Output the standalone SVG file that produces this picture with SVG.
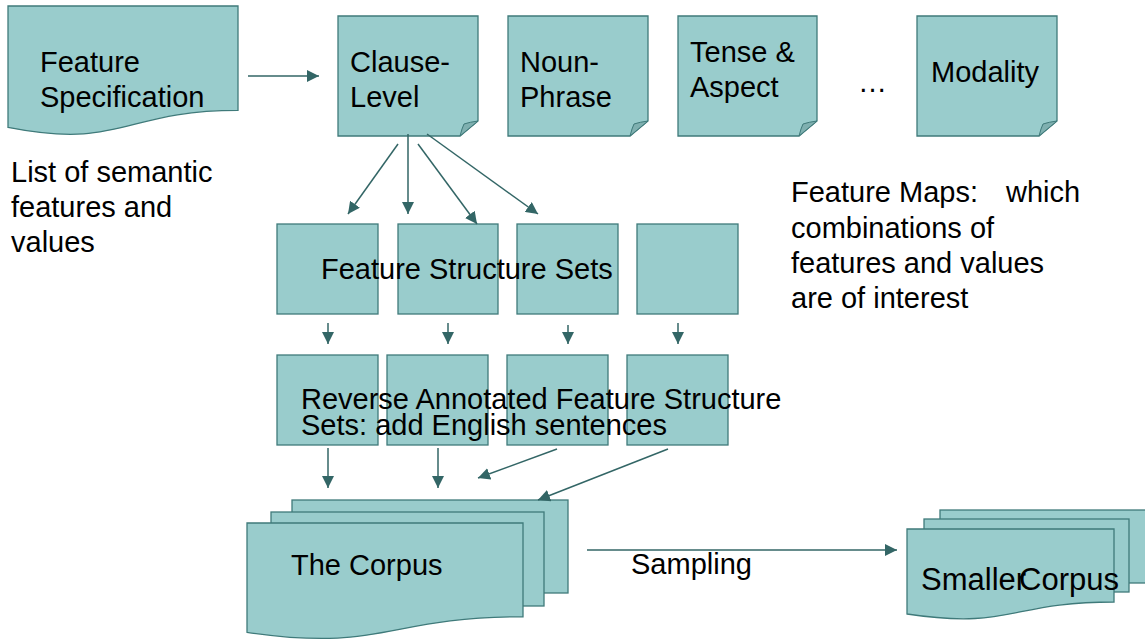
<svg xmlns="http://www.w3.org/2000/svg" width="1145" height="641" viewBox="0 0 1145 641">
<defs>
<style>
.shape{fill:#99cccc;stroke:#3f7a7a;stroke-width:1.3}
.fold{fill:#7fb0b0;stroke:#3f7a7a;stroke-width:1}
.t{font-family:"Liberation Sans",Arial,sans-serif;font-size:29px;fill:#000}
.conn line{stroke:#336666;stroke-width:1.5;marker-end:url(#ah)}
</style>
<marker id="ah" viewBox="0 0 12 12" refX="12" refY="6" markerWidth="12" markerHeight="12" markerUnits="userSpaceOnUse" orient="auto">
<path d="M0,0 L12,6 L0,12 Z" fill="#336666"/>
</marker>
</defs>
<rect width="1145" height="641" fill="#fff"/>

<g id="feature-spec">
<path class="shape" d="M8,6 H238 V110.3 C123,110.3 123,149.9 8,127.4 Z"/>
<text class="t"><tspan x="40" y="72">Feature</tspan><tspan x="40" y="107">Specification</tspan></text>
</g>

<g id="clause-level">
<path class="shape" d="M338,16 H478 V121 L460,136 H338 Z"/>
<path class="fold" d="M460,136 Q462,128 464,124 Q470,122 478,121 Z"/>
<text class="t"><tspan x="350" y="72">Clause-</tspan><tspan x="350" y="107">Level</tspan></text>
</g>

<g id="noun-phrase">
<path class="shape" d="M508,16 H648 V121 L630,136 H508 Z"/>
<path class="fold" d="M630,136 Q632,128 634,124 Q640,122 648,121 Z"/>
<text class="t"><tspan x="520" y="72">Noun-</tspan><tspan x="520" y="107">Phrase</tspan></text>
</g>

<g id="tense-aspect">
<path class="shape" d="M678,16 H817 V121 L799,136 H678 Z"/>
<path class="fold" d="M799,136 Q801,128 803,124 Q809,122 817,121 Z"/>
<text class="t"><tspan x="690" y="62">Tense &amp;</tspan><tspan x="690" y="97">Aspect</tspan></text>
</g>

<g id="ellipsis">
<text class="t" x="858" y="92">…</text>
</g>

<g id="modality">
<path class="shape" d="M917,16 H1057 V121 L1039,136 H917 Z"/>
<path class="fold" d="M1039,136 Q1041,128 1043,124 Q1049,122 1057,121 Z"/>
<text class="t" x="931" y="82">Modality</text>
</g>

<g id="list-label">
<text class="t"><tspan x="11" y="182">List of semantic</tspan><tspan x="11" y="217">features and</tspan><tspan x="11" y="252">values</tspan></text>
</g>

<g id="feature-maps-label">
<text class="t"><tspan x="791" y="202">Feature Maps:</tspan><tspan x="1006" y="202">which</tspan><tspan x="791" y="238">combinations of</tspan><tspan x="791" y="273">features and values</tspan><tspan x="791" y="308">are of interest</tspan></text>
</g>

<g id="fs-sets">
<rect class="shape" x="277" y="224" width="101" height="90"/>
<rect class="shape" x="398" y="224" width="100" height="90"/>
<rect class="shape" x="517" y="224" width="101" height="90"/>
<rect class="shape" x="637" y="224" width="101" height="90"/>
<text class="t" x="321" y="279">Feature Structure Sets</text>
</g>

<g id="reverse-sets">
<rect class="shape" x="277" y="355" width="101" height="90"/>
<rect class="shape" x="387" y="355" width="101" height="90"/>
<rect class="shape" x="507" y="355" width="101" height="90"/>
<rect class="shape" x="627" y="355" width="101" height="90"/>
<text class="t"><tspan x="301" y="409">Reverse Annotated Feature Structure</tspan><tspan x="301" y="435">Sets: add English sentences</tspan></text>
</g>

<g id="corpus">
<rect class="shape" x="292" y="500" width="276" height="93"/>
<rect class="shape" x="271" y="512" width="273" height="94"/>
<path class="shape" d="M247,523 H523 V616.8 C385,616.8 385,652.5 247,632.3 Z"/>
<text class="t" x="291" y="575">The Corpus</text>
</g>

<g id="smaller-corpus">
<rect class="shape" x="940" y="510" width="206" height="73"/>
<rect class="shape" x="924" y="519" width="205" height="73"/>
<path class="shape" d="M907,529 H1114 V602 C1010.5,602 1010.5,629.7 907,614 Z"/>
<text class="t" style="font-size:31px"><tspan x="921" y="590">Smaller</tspan><tspan x="1019" y="590">Corpus</tspan></text>
</g>

<g id="connectors" class="conn">
<line x1="248" y1="76" x2="319" y2="76"/>
<line x1="398" y1="144" x2="348" y2="214"/>
<line x1="408" y1="134" x2="408" y2="214"/>
<line x1="418" y1="144" x2="477" y2="224"/>
<line x1="427" y1="134" x2="538" y2="214"/>
<line x1="328" y1="323" x2="328" y2="344"/>
<line x1="448" y1="323" x2="448" y2="344"/>
<line x1="568" y1="325" x2="568" y2="344"/>
<line x1="678" y1="323" x2="678" y2="344"/>
<line x1="328" y1="448" x2="328" y2="488"/>
<line x1="438" y1="448" x2="438" y2="488"/>
<line x1="557" y1="449" x2="478" y2="478"/>
<line x1="668" y1="449" x2="538" y2="500"/>
<line x1="587" y1="550" x2="897" y2="550"/>
</g>

<g id="sampling-label">
<text class="t" x="631" y="574">Sampling</text>
</g>
</svg>
